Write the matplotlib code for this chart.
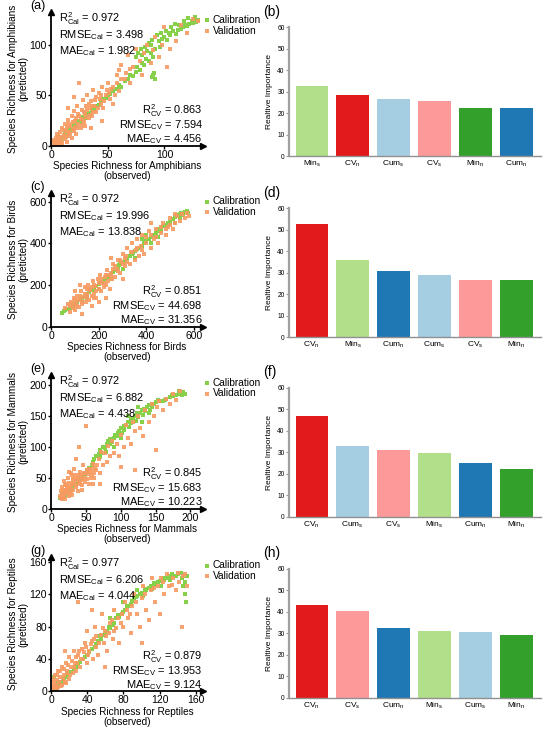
import matplotlib
matplotlib.use("Agg")
import matplotlib.pyplot as plt

plt.rcParams['font.family'] = ['Liberation Sans', 'DejaVu Sans']
plt.rcParams['mathtext.fontset'] = 'custom'
plt.rcParams['mathtext.rm'] = 'Liberation Sans'
plt.rcParams['mathtext.it'] = 'Liberation Sans:italic'

# ---- scatter data (observed, predicted) ----
amph_cal = [(3,4),(6,5),(8,9),(10,8),(12,13),(14,12),(16,17),(18,16),(20,21),(22,20),(24,25),(26,24),
            (28,29),(30,28),(32,32),(34,33),(36,36),(38,37),(40,40),(42,41),(44,44),(46,46),(48,47),(50,50),
            (52,51),(55,54),(58,56),(60,60),(62,58),(65,64),(68,66),(70,70),(72,69),(75,73),(76,78),(78,75),
            (80,82),(80,90),(82,80),(84,86),(85,94),(86,84),(88,100),(88,92),(90,88),(90,70),(92,96),(92,66),
            (95,104),(96,98),(98,106),(100,108),(102,105),(104,112),(105,110),(108,114),(110,111),(112,115),
            (115,116),(116,118),(118,120),(120,119),(122,121),(124,124),(125,122),(126,126),(128,123),(130,125),
            (75,88),(77,92),(79,96),(83,98),(86,102),(89,105),(93,110),(97,112),(101,114),(106,118),(109,121),
            (113,120),(117,124),(121,127),(127,128),(91,72),(89,68)]
amph_val = [(1,2),(2,6),(3,1),(4,8),(5,3),(5,12),(6,6),(7,2),(8,14),(8,5),(9,9),(10,3),(10,18),(11,11),
            (12,7),(12,22),(13,15),(14,4),(14,19),(15,10),(15,26),(16,14),(17,20),(18,8),(18,30),(19,24),
            (20,15),(20,35),(21,19),(22,28),(22,12),(23,40),(24,22),(25,30),(25,62),(26,18),(27,36),(28,26),
            (28,45),(30,32),(30,20),(31,40),(32,50),(33,28),(34,38),(35,44),(36,30),(37,55),(38,40),(40,48),
            (40,34),(42,52),(44,42),(45,58),(46,38),(48,50),(50,62),(52,46),(55,58),(58,70),(60,54),(62,80),
            (65,66),(68,90),(70,62),(72,78),(75,96),(78,84),(80,70),(82,92),(85,100),(88,82),(90,95),(92,108),
            (95,88),(98,100),(100,118),(105,96),(110,104),(115,120),(120,112),(125,126),(130,124),(102,78),
            (45,25),(55,42),(35,18),(60,75),(20,48),(15,38),
            (3,5),(4,3),(6,10),(7,7),(9,4),(11,16),(13,9),(16,22),(17,12),(19,17),(21,25),(23,18),(24,32),
            (26,27),(27,21),(29,34),(29,24),(31,29),(32,36),(33,42),(34,31),(36,40),(37,34),(39,45),(41,38),
            (43,46),(44,50),(47,44),(49,55),(51,52),(53,56),(56,50),(58,62),(62,66),(66,72),(70,76)]

bird_cal = [(45,65),(55,75),(70,85),(80,90),(90,100),(100,115),(110,120),(120,130),(130,140),(140,150),
            (150,160),(160,165),(170,175),(180,180),(190,195),(200,205),(210,215),(220,225),(230,235),
            (240,240),(250,255),(260,265),(270,275),(280,285),(290,300),(300,310),(310,315),(320,330),
            (330,340),(340,350),(350,365),(360,375),(370,380),(380,390),(390,400),(400,405),(410,420),
            (420,430),(430,440),(440,450),(450,470),(460,480),(470,485),(480,490),(490,500),(500,505),
            (510,515),(520,525),(530,535),(540,540),(550,545),(560,550),(570,555),(575,545),(250,230),
            (300,280),(350,330),(420,400),(450,430),(200,180),(150,140),(380,420),(400,440),(460,460),
            (520,500),(540,520),
            (60,80),(95,108),(125,135),(175,178),(235,238),(285,295),(345,355),(395,410),(445,460),
            (495,500),(545,548),(565,552),(555,535),(525,530)]
bird_val = [(60,90),(70,110),(80,70),(85,120),(90,90),(95,140),(100,80),(105,110),(110,150),(115,95),
            (120,130),(125,170),(130,110),(135,145),(140,190),(145,120),(150,160),(155,200),(160,130),
            (165,175),(170,150),(175,220),(180,160),(185,195),(190,140),(195,230),(200,180),(205,250),
            (210,170),(215,210),(220,190),(225,240),(230,200),(235,275),(240,220),(245,180),(250,260),
            (255,230),(260,300),(270,240),(275,280),(280,320),(290,260),(295,310),(300,350),(310,290),
            (315,340),(320,380),(330,300),(335,360),(340,400),(350,320),(355,370),(360,420),(370,340),
            (375,390),(380,440),(390,350),(400,400),(410,460),(420,380),(430,420),(440,470),(450,400),
            (460,450),(470,500),(480,440),(490,480),(500,520),(510,470),(520,500),(530,530),(540,510),
            (550,540),(560,520),(570,545),(580,530),(130,60),(200,120),(250,330),(300,230),(420,500),
            (120,200),(170,100),(230,140),(100,170),
            (90,110),(100,130),(110,100),(120,150),(130,120),(140,160),(150,140),(160,180),(170,190),
            (180,200),(190,170),(200,210),(210,230),(220,210),(230,250),(240,250),(250,240),(260,280),
            (270,290),(280,270),(290,320),(300,300),(310,330),(320,310),(340,360),(360,380),(380,370),
            (400,430),(420,440),(440,430),(460,480),(480,470),(500,490),(520,540),(150,180),(180,140),
            (110,130),(80,100)]

mamm_cal = [(13,18),(15,22),(18,25),(20,22),(22,28),(25,30),(28,34),(30,33),(32,38),(35,40),(38,44),
            (40,46),(42,48),(45,50),(48,56),(50,58),(52,62),(55,66),(58,70),(60,75),(62,80),(65,85),(68,88),
            (70,95),(72,90),(75,100),(78,98),(80,105),(82,110),(85,112),(88,108),(90,115),(92,120),(95,118),
            (98,125),(100,130),(102,122),(105,128),(108,135),(110,140),(112,132),(115,138),(118,145),
            (120,150),(122,142),(125,148),(128,155),(130,160),(132,152),(135,158),(138,165),(140,168),
            (142,160),(145,165),(148,170),(150,172),(155,175),(160,175),(165,178),(170,180),(175,182),
            (180,184),(185,186),(190,188),(192,185),(125,165),(110,150),(100,115),(90,100),(130,140),(140,155),
            (84,104),(96,122),(104,134),(114,145),(124,155),(134,162),(144,168),(154,176),(164,176),
            (174,184),(184,190),(188,184),(79,92),(70,84)]
mamm_val = [(12,20),(14,28),(15,15),(16,35),(18,22),(18,45),(20,30),(20,16),(22,40),(22,25),(24,50),
            (25,20),(26,35),(28,58),(28,28),(30,42),(30,22),(32,50),(33,65),(35,35),(36,48),(38,28),(38,55),
            (40,44),(40,100),(42,60),(44,38),(45,52),(46,70),(48,44),(50,58),(50,134),(52,48),(54,65),(55,40),
            (58,55),(60,72),(62,50),(65,62),(68,80),(70,58),(72,92),(75,70),(78,90),(80,75),(82,102),(85,85),
            (88,110),(90,90),(95,105),(98,85),(100,120),(105,100),(108,135),(110,115),(115,105),(118,140),
            (120,125),(120,62),(125,150),(128,130),(132,118),(135,160),(140,140),(145,170),(148,150),
            (152,165),(155,175),(160,160),(165,178),(170,170),(175,185),(180,176),(185,190),(100,68),
            (150,95),(70,40),(35,80),(25,60),
            (14,18),(16,24),(17,30),(19,19),(21,26),(23,33),(24,28),(26,42),(27,24),(29,36),(31,30),
            (31,46),(33,40),(34,54),(36,38),(37,46),(39,50),(41,40),(43,54),(45,46),(47,58),(49,50),
            (51,62),(53,56),(56,60),(57,50),(59,64),(61,58),(63,66),(66,70),(45,30),(60,40),(30,55),(20,38)]

rept_cal = [(2,2),(3,18),(5,5),(6,10),(8,8),(10,12),(12,10),(14,15),(16,18),(18,20),(20,22),(22,24),
            (25,28),(28,30),(30,35),(32,36),(35,40),(38,42),(40,45),(42,48),(45,52),(48,55),(50,58),(52,62),
            (55,65),(58,70),(60,72),(62,75),(65,78),(68,82),(70,85),(72,90),(75,92),(78,95),(80,98),(82,100),
            (85,105),(88,108),(90,112),(92,115),(95,118),(98,120),(100,122),(102,118),(105,125),(108,128),
            (110,130),(112,126),(115,132),(118,135),(120,136),(122,130),(125,138),(128,140),(130,142),
            (132,138),(135,143),(138,142),(140,145),(145,140),(148,135),(148,120),(150,142),(65,90),(80,110),
            (95,125),
            (54,68),(64,80),(74,94),(84,106),(94,116),(104,126),(114,134),(124,140),(134,145),(144,146),
            (146,130),(149,110)]
rept_val = [(1,3),(2,15),(3,8),(4,20),(5,2),(6,14),(8,25),(8,5),(10,18),(12,8),(12,30),(14,20),(15,12),
            (16,35),(18,25),(20,15),(20,42),(22,30),(24,22),(25,50),(26,35),(28,25),(30,45),(30,110),(32,30),
            (34,52),(35,40),(38,60),(40,35),(40,75),(42,50),(45,62),(46,40),(48,80),(50,55),(52,45),(55,70),
            (56,95),(58,60),(60,75),(62,50),(65,85),(68,65),(70,100),(72,78),(75,60),(78,95),(80,80),(82,110),
            (85,90),(88,72),(90,105),(92,120),(95,95),(98,80),(100,115),(102,130),(105,100),(108,88),(110,125),
            (112,140),(115,110),(118,130),(120,95),(122,140),(125,120),(128,145),(130,130),(135,140),(138,125),
            (140,146),(142,135),(145,80),(148,145),(150,130),(60,30),(100,60),(15,50),(45,100),
            (2,5),(3,12),(5,8),(6,20),(7,4),(9,12),(10,25),(11,6),(13,15),(14,28),(16,10),(17,22),(19,32),
            (21,20),(23,38),(25,30),(27,42),(29,35),(31,50),(33,40),(36,48),(39,55),(41,45),(44,58),(47,65),
            (50,68),(53,60),(57,78),(61,68),(64,72),(67,88),(70,75),(74,90),(77,85),(84,100),(87,95),
            (94,110),(104,120),(114,128),(124,135),(134,132),(146,142)]

taxa = ['Amphibians', 'Birds', 'Mammals', 'Reptiles']
cal_sets = [amph_cal, bird_cal, mamm_cal, rept_cal]
val_sets = [amph_val, bird_val, mamm_val, rept_val]
axis_max = [(134, 133), (637, 643), (218, 217), (168, 166)]
ticks = [[0, 50, 100], [0, 200, 400, 600], [0, 50, 100, 150, 200], [0, 40, 80, 120, 160]]
r2_cal = ['0.972', '0.972', '0.972', '0.977']
rmse_cal = ['3.498', '19.996', '6.882', '6.206']
mae_cal = ['1.982', '13.838', '4.438', '4.044']
r2_cv = ['0.863', '0.851', '0.845', '0.879']
rmse_cv = ['7.594', '44.698', '15.683', '13.953']
mae_cv = ['4.456', '31.356', '10.223', '9.124']

# ---- relative importance bars ----
bar_labels = [
    ['Min_s', 'CV_n', 'Cum_s', 'CV_s', 'Min_n', 'Cum_n'],
    ['CV_n', 'Min_s', 'Cum_n', 'Cum_s', 'CV_s', 'Min_n'],
    ['CV_n', 'Cum_s', 'CV_s', 'Min_s', 'Cum_n', 'Min_n'],
    ['CV_n', 'CV_s', 'Cum_n', 'Min_s', 'Cum_s', 'Min_n'],
]
bar_values = [
    [32.8, 28.4, 26.8, 25.7, 22.3, 22.2],
    [52.5, 36.0, 30.6, 29.0, 26.8, 26.6],
    [47.0, 32.8, 31.2, 29.5, 25.1, 22.2],
    [43.3, 40.5, 32.6, 31.2, 30.5, 29.4],
]
var_colors = {'Min_s': '#b2df8a', 'Min_n': '#33a02c', 'CV_s': '#fb9a99',
              'CV_n': '#e31a1c', 'Cum_s': '#a6cee3', 'Cum_n': '#1f78b4'}

green = '#86d04a'
orange = '#f79a62'

fig = plt.figure(figsize=(5.5, 7.33), dpi=100)

sc_bottoms = [0.801, 0.554, 0.306, 0.057]
bar_bottoms = [0.787, 0.540, 0.295, 0.048]
sc_letters = ['(a)', '(c)', '(e)', '(g)']
bar_letters = ['(b)', '(d)', '(f)', '(h)']

for i in range(4):
    ax = fig.add_axes([0.093, sc_bottoms[i], 0.276, 0.183])
    cx = [p[0] for p in cal_sets[i]]
    cy = [p[1] for p in cal_sets[i]]
    vx = [p[0] for p in val_sets[i]]
    vy = [p[1] for p in val_sets[i]]
    ax.scatter(cx, cy, s=10, marker='s', color=green, linewidths=0, label='Calibration')
    ax.scatter(vx, vy, s=10, marker='s', color=orange, linewidths=0, alpha=0.9, label='Validation')
    ax.set_xlim(0, axis_max[i][0])
    ax.set_ylim(0, axis_max[i][1])
    ax.set_xticks(ticks[i])
    ax.set_yticks(ticks[i])
    ax.tick_params(labelsize=7.5, length=2, width=1, pad=1)
    for s in ['top', 'right']:
        ax.spines[s].set_visible(False)
    for s in ['left', 'bottom']:
        ax.spines[s].set_linewidth(1.3)
    ax.plot(1, 0, '>k', ms=5, transform=ax.transAxes, clip_on=False)
    ax.plot(0, 1, '^k', ms=5, transform=ax.transAxes, clip_on=False)
    ax.set_xlabel('Species Richness for ' + taxa[i] + '\n(observed)', fontsize=7.2, labelpad=1, linespacing=1.0)
    ax.set_ylabel('Species Richness for ' + taxa[i] + '\n(preticted)', fontsize=7.2, labelpad=1, linespacing=1.0)

    fs = 7.9
    ax.text(0.05, 0.925, r'$\mathregular{R^2_{Cal}}$ = ' + r2_cal[i], transform=ax.transAxes,
            fontsize=fs, va='baseline', ha='left')
    ax.text(0.05, 0.805, r'$\mathregular{RMSE_{Cal}}$ = ' + rmse_cal[i], transform=ax.transAxes,
            fontsize=fs, va='baseline', ha='left')
    ax.text(0.05, 0.685, r'$\mathregular{MAE_{Cal}}$ = ' + mae_cal[i], transform=ax.transAxes,
            fontsize=fs, va='baseline', ha='left')
    ax.text(1.0, 0.235, r'$\mathregular{R^2_{CV}}$ = ' + r2_cv[i], transform=ax.transAxes,
            fontsize=fs, va='baseline', ha='right')
    ax.text(1.0, 0.13, r'$\mathregular{RMSE_{CV}}$ = ' + rmse_cv[i], transform=ax.transAxes,
            fontsize=fs, va='baseline', ha='right')
    ax.text(1.0, 0.025, r'$\mathregular{MAE_{CV}}$ = ' + mae_cv[i], transform=ax.transAxes,
            fontsize=fs, va='baseline', ha='right')
    ax.legend(loc='upper left', bbox_to_anchor=(0.95, 1.02), frameon=False, fontsize=7.3,
              handletextpad=0.1, borderpad=0.1, labelspacing=0.05, markerscale=0.8, handlelength=1.0)
    ax.text(-0.14, 1.0, sc_letters[i], transform=ax.transAxes, fontsize=9, ha='left', va='bottom')

    bx = fig.add_axes([0.525, bar_bottoms[i], 0.458, 0.176])
    pos = list(range(len(bar_values[i])))
    cols = [var_colors[l] for l in bar_labels[i]]
    bx.bar(pos, bar_values[i], width=0.79, color=cols)
    bx.set_xlim(-0.56, 5.59)
    bx.set_ylim(0, 60)
    bx.set_yticks([0, 10, 20, 30, 40, 50, 60])
    bx.set_xticks(pos)
    names = [r'$\mathregular{' + l.split('_')[0] + '_{' + l.split('_')[1] + '}}$' for l in bar_labels[i]]
    bx.set_xticklabels(names, fontsize=6)
    bx.tick_params(axis='y', labelsize=4.8, length=2, color='#999999', pad=1)
    bx.tick_params(axis='x', length=0, pad=2)
    for s in ['top', 'right']:
        bx.spines[s].set_visible(False)
    bx.spines['left'].set_color('#a0a0a0')
    bx.spines['left'].set_linewidth(1.6)
    bx.spines['bottom'].set_color('#909090')
    bx.spines['bottom'].set_linewidth(1.0)
    bx.set_ylabel('Realtive Importance', fontsize=6, labelpad=3)
    bx.text(-0.1, 1.12, bar_letters[i], transform=bx.transAxes, fontsize=10, ha='left', va='center')

fig.savefig('out.png', dpi=100)
